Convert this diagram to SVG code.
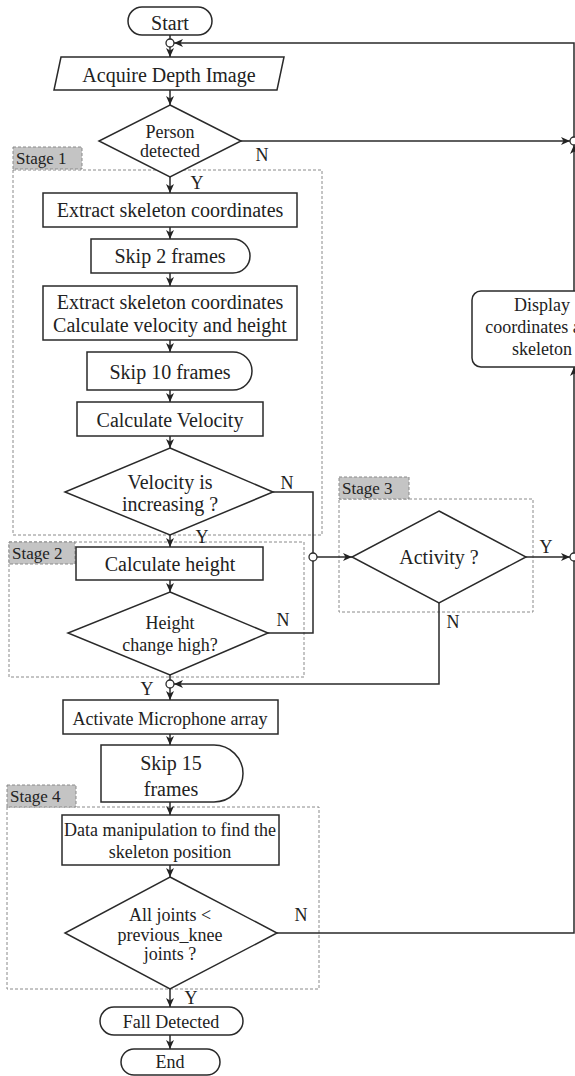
<svg xmlns="http://www.w3.org/2000/svg" width="575" height="1076" viewBox="0 0 575 1076">
<defs>
<marker id="arr" markerUnits="userSpaceOnUse" markerWidth="10" markerHeight="9" refX="9" refY="4.5" orient="auto">
<path d="M0,0.5 L9,4.5 L0,8.5 L2.5,4.5 Z" fill="#222"/>
</marker>
<style>
.s{fill:#fff;stroke:#2a2a2a;stroke-width:1.5}
.l{fill:none;stroke:#2a2a2a;stroke-width:1.5}
.j{fill:#fff;stroke:#2a2a2a;stroke-width:1.3}
.d{fill:none;stroke:#8a8a8a;stroke-width:1;stroke-dasharray:3 2}
.tag{fill:#c4c4c4;stroke:#8a8a8a;stroke-width:1;stroke-dasharray:3 2}
text{font-family:"Liberation Serif","Times New Roman",serif;fill:#222;text-anchor:middle}
.t20{font-size:20px}
.t18{font-size:18px}
.tg{font-size:17px;text-anchor:start}
.lb{font-size:18px}
</style>
</defs>
<rect width="575" height="1076" fill="#fff"/>

<g id="stages">
<rect class="d" x="13" y="170" width="309" height="365"/>
<rect class="tag" x="13" y="147" width="69" height="22"/>
<text class="tg" x="16" y="164">Stage 1</text>
<rect class="d" x="9" y="542" width="295" height="135"/>
<rect class="tag" x="9" y="542" width="66" height="22"/>
<text class="tg" x="12" y="559">Stage 2</text>
<rect class="d" x="339" y="499" width="194" height="113"/>
<rect class="tag" x="339" y="477" width="70" height="22"/>
<text class="tg" x="342" y="494">Stage 3</text>
<rect class="d" x="7" y="807" width="312" height="182"/>
<rect class="tag" x="7" y="785" width="69" height="22"/>
<text class="tg" x="10" y="802">Stage 4</text>
</g>

<g id="connectors">
<path class="l" d="M170,35 V39"/>
<path class="l" d="M170,47 V57" marker-end="url(#arr)"/>
<path class="l" d="M170,90 V105" marker-end="url(#arr)"/>
<path class="l" d="M241,141 H570" marker-end="url(#arr)"/>
<path class="l" d="M170,177 V193" marker-end="url(#arr)"/>
<path class="l" d="M170,227 V239" marker-end="url(#arr)"/>
<path class="l" d="M170,273 V286" marker-end="url(#arr)"/>
<path class="l" d="M170,340 V352" marker-end="url(#arr)"/>
<path class="l" d="M170,390 V402" marker-end="url(#arr)"/>
<path class="l" d="M170,436 V448" marker-end="url(#arr)"/>
<path class="l" d="M170,535 V547" marker-end="url(#arr)"/>
<path class="l" d="M170,580 V592" marker-end="url(#arr)"/>
<path class="l" d="M170,675 V680"/>
<path class="l" d="M170,688 V700" marker-end="url(#arr)"/>
<path class="l" d="M170,734 V745" marker-end="url(#arr)"/>
<path class="l" d="M170,802 V815" marker-end="url(#arr)"/>
<path class="l" d="M170,865 V877" marker-end="url(#arr)"/>
<path class="l" d="M170,989 V1007" marker-end="url(#arr)"/>
<path class="l" d="M170,1035 V1049" marker-end="url(#arr)"/>
<path class="l" d="M273,492 H313 V633 H268"/>
<path class="l" d="M317,557 H352" marker-end="url(#arr)"/>
<path class="l" d="M526,557 H570" marker-end="url(#arr)"/>
<path class="l" d="M439,603 V684 H174" marker-end="url(#arr)"/>
<path class="l" d="M277,933 H574 V367" marker-end="url(#arr)"/>
<path class="l" d="M574,291 V145" marker-end="url(#arr)"/>
<path class="l" d="M574,137 V43 H174" marker-end="url(#arr)"/>
<circle class="j" cx="170" cy="43" r="4"/>
<circle class="j" cx="574" cy="141" r="4"/>
<circle class="j" cx="313" cy="557" r="4"/>
<circle class="j" cx="574" cy="557" r="4"/>
<circle class="j" cx="170" cy="684" r="4"/>
<text class="lb" x="262" y="161">N</text>
<text class="lb" x="197" y="189">Y</text>
<text class="lb" x="287" y="489">N</text>
<text class="lb" x="202" y="543">Y</text>
<text class="lb" x="283" y="626">N</text>
<text class="lb" x="147" y="695">Y</text>
<text class="lb" x="546" y="553">Y</text>
<text class="lb" x="453" y="628">N</text>
<text class="lb" x="301" y="921">N</text>
<text class="lb" x="191" y="1004">Y</text>
</g>

<g id="start">
<rect class="s" x="128" y="7" width="84" height="28" rx="14"/>
<text class="t20" x="170" y="30">Start</text>
</g>
<g id="acquire">
<polygon class="s" points="61,57 284,57 277,90 54,90"/>
<text class="t20" x="169" y="82">Acquire Depth Image</text>
</g>
<g id="person">
<polygon class="s" points="170,105 241,141 170,177 99,141"/>
<text class="t18" x="170" y="138">Person</text>
<text class="t18" x="170" y="157">detected</text>
</g>
<g id="extract1">
<rect class="s" x="43" y="193" width="254" height="34"/>
<text class="t20" x="170" y="217">Extract skeleton coordinates</text>
</g>
<g id="skip2">
<path class="s" d="M91,239 H233 A17,17 0 0 1 233,273 H91 Z"/>
<text class="t20" x="170" y="263">Skip 2 frames</text>
</g>
<g id="extract2">
<rect class="s" x="43" y="286" width="254" height="54"/>
<text class="t20" x="170" y="309">Extract skeleton coordinates</text>
<text class="t20" x="170" y="332">Calculate velocity and height</text>
</g>
<g id="skip10">
<path class="s" d="M87,352 H233 A19,19 0 0 1 233,390 H87 Z"/>
<text class="t20" x="170" y="379">Skip 10 frames</text>
</g>
<g id="calcvel">
<rect class="s" x="77" y="402" width="186" height="34"/>
<text class="t20" x="170" y="427">Calculate Velocity</text>
</g>
<g id="velinc">
<polygon class="s" points="170,448 273,492 170,535 65,492"/>
<text class="t20" x="170" y="489">Velocity is</text>
<text class="t20" x="170" y="511">increasing ?</text>
</g>
<g id="calcheight">
<rect class="s" x="76" y="547" width="187" height="33"/>
<text class="t20" x="170" y="571">Calculate height</text>
</g>
<g id="heightchange">
<polygon class="s" points="170,592 268,633 170,675 68,633"/>
<text class="t18" x="170" y="629">Height</text>
<text class="t18" x="170" y="651">change high?</text>
</g>
<g id="activity">
<polygon class="s" points="439,511 526,557 439,603 352,557"/>
<text class="t20" x="439" y="564">Activity ?</text>
</g>
<g id="display">
<rect class="s" x="472" y="291" width="140" height="76" rx="9"/>
<text class="t18" x="542" y="311">Display</text>
<text class="t18" x="542" y="333">coordinates and</text>
<text class="t18" x="542" y="355">skeleton</text>
</g>
<g id="mic">
<rect class="s" x="63" y="700" width="215" height="34"/>
<text class="t18" x="170" y="725">Activate Microphone array</text>
</g>
<g id="skip15">
<path class="s" d="M101,745 H214 A29,28.5 0 0 1 214,802 H101 Z"/>
<text class="t20" x="171" y="770">Skip 15</text>
<text class="t20" x="171" y="796">frames</text>
</g>
<g id="datamanip">
<rect class="s" x="62" y="815" width="217" height="50"/>
<text class="t18" x="170" y="836">Data manipulation to find the</text>
<text class="t18" x="170" y="858">skeleton position</text>
</g>
<g id="alljoints">
<polygon class="s" points="170,877 277,933 170,989 65,933"/>
<text class="t18" x="170" y="921">All joints &lt;</text>
<text class="t18" x="170" y="941">previous_knee</text>
<text class="t18" x="170" y="960">joints ?</text>
</g>
<g id="fall">
<rect class="s" x="100" y="1007" width="143" height="28" rx="14"/>
<text class="t18" x="171" y="1028">Fall Detected</text>
</g>
<g id="end">
<rect class="s" x="121" y="1049" width="99" height="26" rx="13"/>
<text class="t18" x="170" y="1068">End</text>
</g>
</svg>
